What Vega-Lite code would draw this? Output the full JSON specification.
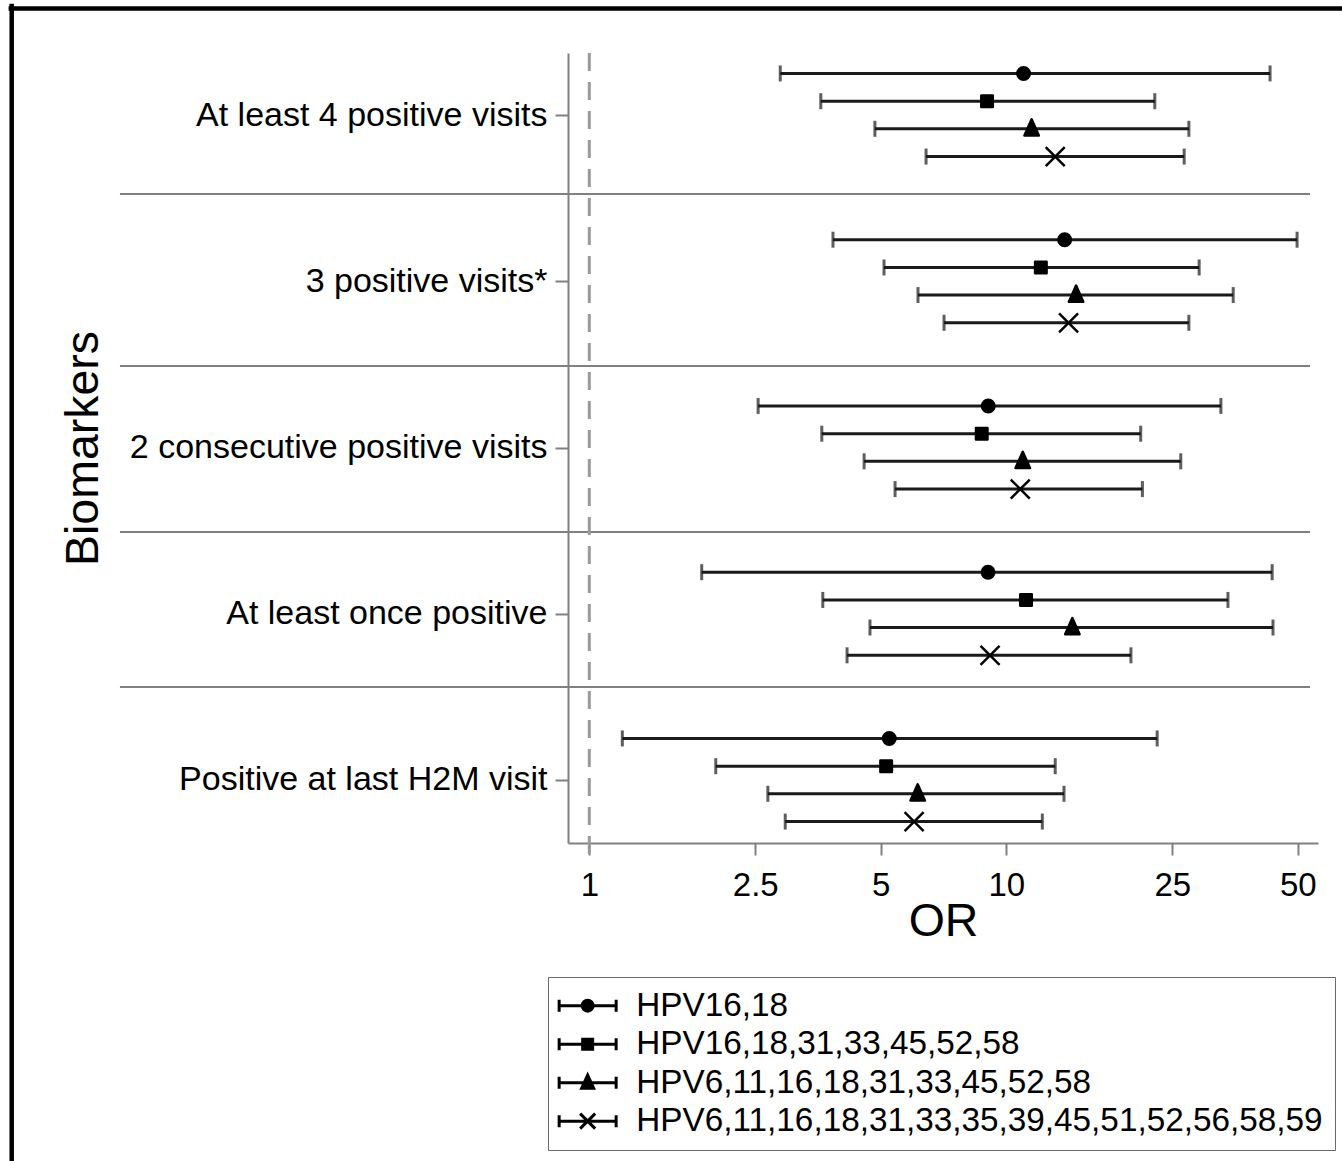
{
  "$schema": "https://vega.github.io/schema/vega-lite/v6.json",
  "width": 750,
  "height": 790,
  "autosize": {"type": "none"},
  "padding": {"left": 568, "top": 53, "right": 24, "bottom": 318},
  "background": "white",
  "config": {
    "view": {"stroke": null},
    "font": "Liberation Sans",
    "axis": {
      "domainColor": "#808080",
      "domainWidth": 2,
      "tickColor": "#808080",
      "tickWidth": 2,
      "labelColor": "black",
      "titleColor": "black",
      "labelFont": "Liberation Sans",
      "titleFont": "Liberation Sans",
      "titleFontWeight": "normal",
      "grid": false
    }
  },
  "resolve": {"scale": {"shape": "independent"}},
  "datasets": {
    "est": [
      {"group": "At least 4 positive visits", "series": "HPV16,18", "y": -0.25, "or": 11.0, "lo": 2.87, "hi": 42.9},
      {"group": "At least 4 positive visits", "series": "HPV16,18,31,33,45,52,58", "y": -0.083, "or": 8.99, "lo": 3.59, "hi": 22.7},
      {"group": "At least 4 positive visits", "series": "HPV6,11,16,18,31,33,45,52,58", "y": 0.083, "or": 11.5, "lo": 4.84, "hi": 27.4},
      {"group": "At least 4 positive visits", "series": "HPV6,11,16,18,31,33,35,39,45,51,52,56,58,59", "y": 0.25, "or": 13.1, "lo": 6.42, "hi": 26.7},
      {"group": "3 positive visits*", "series": "HPV16,18", "y": 0.75, "or": 13.8, "lo": 3.84, "hi": 49.8},
      {"group": "3 positive visits*", "series": "HPV16,18,31,33,45,52,58", "y": 0.917, "or": 12.1, "lo": 5.09, "hi": 29.0},
      {"group": "3 positive visits*", "series": "HPV6,11,16,18,31,33,45,52,58", "y": 1.083, "or": 14.7, "lo": 6.14, "hi": 35.0},
      {"group": "3 positive visits*", "series": "HPV6,11,16,18,31,33,35,39,45,51,52,56,58,59", "y": 1.25, "or": 14.1, "lo": 7.09, "hi": 27.4},
      {"group": "2 consecutive positive visits", "series": "HPV16,18", "y": 1.75, "or": 9.05, "lo": 2.54, "hi": 32.7},
      {"group": "2 consecutive positive visits", "series": "HPV16,18,31,33,45,52,58", "y": 1.917, "or": 8.73, "lo": 3.61, "hi": 21.0},
      {"group": "2 consecutive positive visits", "series": "HPV6,11,16,18,31,33,45,52,58", "y": 2.083, "or": 10.95, "lo": 4.56, "hi": 26.2},
      {"group": "2 consecutive positive visits", "series": "HPV6,11,16,18,31,33,35,39,45,51,52,56,58,59", "y": 2.25, "or": 10.8, "lo": 5.41, "hi": 21.2},
      {"group": "At least once positive", "series": "HPV16,18", "y": 2.75, "or": 9.04, "lo": 1.86, "hi": 43.4},
      {"group": "At least once positive", "series": "HPV16,18,31,33,45,52,58", "y": 2.917, "or": 11.15, "lo": 3.63, "hi": 34.0},
      {"group": "At least once positive", "series": "HPV6,11,16,18,31,33,45,52,58", "y": 3.083, "or": 14.4, "lo": 4.71, "hi": 43.6},
      {"group": "At least once positive", "series": "HPV6,11,16,18,31,33,35,39,45,51,52,56,58,59", "y": 3.25, "or": 9.14, "lo": 4.15, "hi": 19.9},
      {"group": "Positive at last H2M visit", "series": "HPV16,18", "y": 3.75, "or": 5.24, "lo": 1.2, "hi": 23.0},
      {"group": "Positive at last H2M visit", "series": "HPV16,18,31,33,45,52,58", "y": 3.917, "or": 5.15, "lo": 2.01, "hi": 13.1},
      {"group": "Positive at last H2M visit", "series": "HPV6,11,16,18,31,33,45,52,58", "y": 4.083, "or": 6.13, "lo": 2.68, "hi": 13.75},
      {"group": "Positive at last H2M visit", "series": "HPV6,11,16,18,31,33,35,39,45,51,52,56,58,59", "y": 4.25, "or": 6.01, "lo": 2.95, "hi": 12.2}
    ],
    "seps": [
      {"xa": 0.0749, "xb": 53.5, "yv": 0.475},
      {"xa": 0.0749, "xb": 53.5, "yv": 1.51},
      {"xa": 0.0749, "xb": 53.5, "yv": 2.508},
      {"xa": 0.0749, "xb": 53.5, "yv": 3.441}
    ],
    "ref": [{"xv": 1, "ya": -0.373, "yb": 4.45}],
    "frameV": [{"xv": 0.0412, "ya": -0.67, "yb": 6.5}],
    "frameH": [{"xa": 0.0405, "xb": 70, "yv": -0.641}]
  },
  "layer": [
    {
      "data": {"name": "est"},
      "mark": {"type": "rule", "color": "#1a1a1a", "strokeWidth": 3},
      "encoding": {
        "x": {
          "field": "lo",
          "type": "quantitative",
          "title": "OR",
          "scale": {"type": "log", "domain": [0.889, 55.9], "nice": false},
          "axis": {
            "title": "OR",
            "values": [1, 2.5, 5, 10, 25, 50],
            "labelExpr": "datum.value + ''",
            "tickSize": 12,
            "labelPadding": 14,
            "labelFontSize": 33,
            "titleFontSize": 46.5,
            "titlePadding": -4
          }
        },
        "x2": {"field": "hi"},
        "y": {
          "field": "y",
          "type": "quantitative",
          "title": "Biomarkers",
          "scale": {"domain": [-0.373, 4.379], "reverse": true, "nice": false, "zero": false},
          "axis": {
            "title": "Biomarkers",
            "values": [0, 1, 2, 3, 4],
            "labelExpr": "['At least 4 positive visits','3 positive visits*','2 consecutive positive visits','At least once positive','Positive at last H2M visit'][datum.value]",
            "tickSize": 13,
            "labelPadding": 8,
            "labelFontSize": 34,
            "labelLimit": 800,
            "titleFontSize": 46.5,
            "titlePadding": 261
          }
        }
      }
    },
    {
      "data": {"name": "frameV"},
      "mark": {"type": "rule", "clip": false, "color": "black", "strokeWidth": 4.5},
      "encoding": {
        "x": {"field": "xv", "type": "quantitative", "title": "OR"},
        "y": {"field": "ya", "type": "quantitative", "title": "Biomarkers"},
        "y2": {"field": "yb"}
      }
    },
    {
      "data": {"name": "frameH"},
      "mark": {"type": "rule", "clip": false, "color": "black", "strokeWidth": 4.5},
      "encoding": {
        "x": {"field": "xa", "type": "quantitative", "title": "OR"},
        "x2": {"field": "xb"},
        "y": {"field": "yv", "type": "quantitative", "title": "Biomarkers"}
      }
    },
    {
      "data": {"name": "seps"},
      "mark": {"type": "rule", "clip": false, "color": "#808080", "strokeWidth": 2},
      "encoding": {
        "x": {"field": "xa", "type": "quantitative", "title": "OR"},
        "x2": {"field": "xb"},
        "y": {"field": "yv", "type": "quantitative", "title": "Biomarkers"}
      }
    },
    {
      "data": {"name": "ref"},
      "mark": {"type": "rule", "clip": false, "color": "#9a9a9a", "strokeWidth": 3, "strokeDash": [18, 11]},
      "encoding": {
        "x": {"field": "xv", "type": "quantitative", "title": "OR"},
        "y": {"field": "ya", "type": "quantitative", "title": "Biomarkers"},
        "y2": {"field": "yb"}
      }
    },
    {
      "data": {"name": "est"},
      "mark": {"type": "tick", "orient": "vertical", "color": "#1a1a1a", "size": 16, "thickness": 3},
      "encoding": {
        "x": {"field": "lo", "type": "quantitative", "title": "OR"},
        "y": {"field": "y", "type": "quantitative", "title": "Biomarkers"}
      }
    },
    {
      "data": {"name": "est"},
      "mark": {"type": "tick", "orient": "vertical", "color": "#1a1a1a", "size": 16, "thickness": 3},
      "encoding": {
        "x": {"field": "hi", "type": "quantitative", "title": "OR"},
        "y": {"field": "y", "type": "quantitative", "title": "Biomarkers"}
      }
    },
    {
      "data": {"name": "est"},
      "mark": {"type": "point", "filled": true, "fill": "black", "stroke": "black", "strokeWidth": 2.5, "strokeJoin": "round", "size": 100, "opacity": 1},
      "encoding": {
        "x": {"field": "or", "type": "quantitative", "title": "OR"},
        "y": {"field": "y", "type": "quantitative", "title": "Biomarkers"},
        "shape": {
          "field": "series",
          "type": "nominal",
          "scale": {
            "domain": ["HPV16,18", "HPV16,18,31,33,45,52,58", "HPV6,11,16,18,31,33,45,52,58", "HPV6,11,16,18,31,33,35,39,45,51,52,56,58,59"],
            "range": [
              "M1.25,0A1.25,1.25,0,1,1,-1.25,0A1.25,1.25,0,1,1,1.25,0Z",
              "M-1.15,-1.15H1.15V1.15H-1.15Z",
              "M0,-1.9L1.44,1.35H-1.44Z",
              "M-1.9,-1.9L1.9,1.9M-1.9,1.9L1.9,-1.9"
            ]
          },
          "legend": null
        }
      }
    },
    {
      "data": {"name": "est"},
      "transform": [{"filter": "false"}],
      "mark": {"type": "point", "filled": false, "color": "black", "stroke": "black", "strokeWidth": 3, "strokeJoin": "round", "size": 400, "opacity": 1},
      "encoding": {
        "shape": {
          "field": "series",
          "type": "nominal",
          "scale": {
            "domain": ["HPV16,18", "HPV16,18,31,33,45,52,58", "HPV6,11,16,18,31,33,45,52,58", "HPV6,11,16,18,31,33,35,39,45,51,52,56,58,59"],
            "range": [
              "M-1.75,0H3.95M-1.75,-0.6V0.6M3.95,-0.6V0.6M1.65,0A0.55,0.55,0,1,1,0.55,0A0.55,0.55,0,1,1,1.65,0ZM1.52,0A0.42,0.42,0,1,1,0.68,0A0.42,0.42,0,1,1,1.52,0ZM1.39,0A0.29,0.29,0,1,1,0.81,0A0.29,0.29,0,1,1,1.39,0ZM1.26,0A0.16,0.16,0,1,1,0.94,0A0.16,0.16,0,1,1,1.26,0ZM1.15,0A0.05,0.05,0,1,1,1.05,0A0.05,0.05,0,1,1,1.15,0Z",
              "M-1.75,0H3.95M-1.75,-0.6V0.6M3.95,-0.6V0.6M0.6,-0.5H1.6V0.5H0.6ZM0.73,-0.37H1.47V0.37H0.73ZM0.86,-0.24H1.34V0.24H0.86ZM0.99,-0.11H1.21V0.11H0.99Z",
              "M-1.75,0H3.95M-1.75,-0.6V0.6M3.95,-0.6V0.6M1.1,-0.75L1.7,0.55H0.5ZM1.1,-0.533L1.55,0.442H0.65ZM1.1,-0.317L1.4,0.333H0.8ZM1.1,-0.1L1.25,0.225H0.95Z",
              "M-1.75,0H3.95M-1.75,-0.6V0.6M3.95,-0.6V0.6M0.35,-0.75L1.85,0.75M0.35,0.75L1.85,-0.75"
            ]
          },
          "legend": {
            "title": null,
            "orient": "none",
            "legendX": -20,
            "legendY": 924,
            "padding": 12,
            "rowPadding": 4.5,
            "labelFontSize": 33.3,
            "labelFont": "Liberation Sans",
            "labelColor": "black",
            "labelOffset": 43,
            "labelLimit": 2000,
            "symbolSize": 400,
            "symbolStrokeWidth": 3,
            "symbolFillColor": "black",
            "symbolStrokeColor": "black",
            "symbolOpacity": 1,
            "strokeColor": "#6a6a6a",
            "fillColor": "white"
          }
        }
      }
    }
  ]
}
